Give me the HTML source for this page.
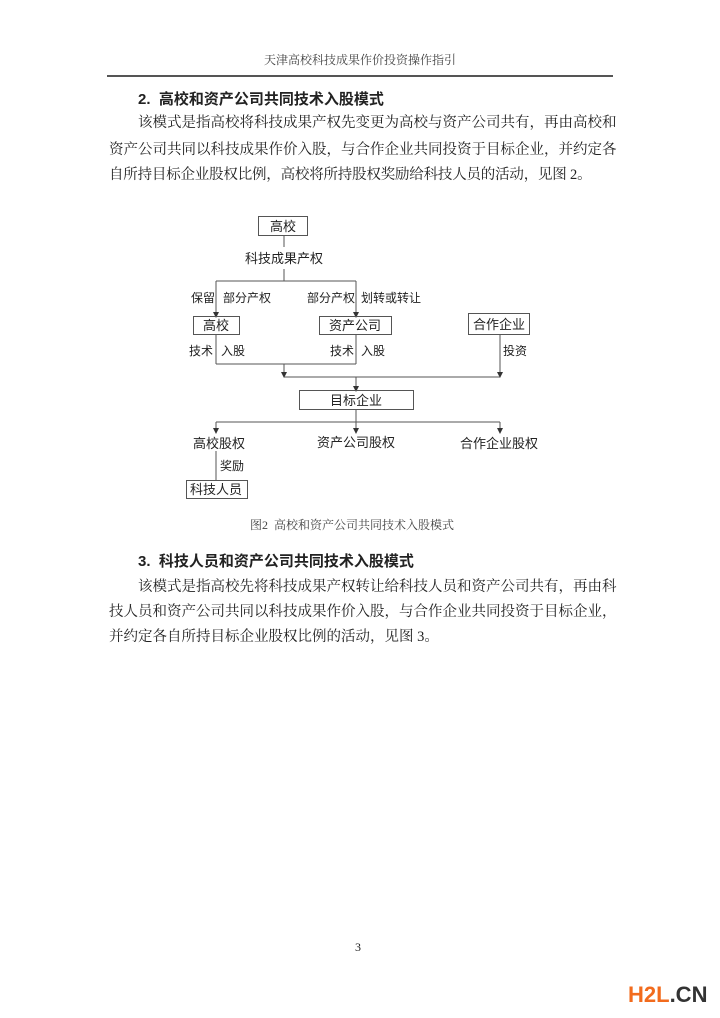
<!DOCTYPE html>
<html><head><meta charset="utf-8"><style>
body{margin:0;background:#fff;}
#p{position:relative;width:720px;height:1018px;overflow:hidden;background:#fff;font-family:"Liberation Serif","Noto Serif CJK SC",serif;color:#222;}
.t{position:absolute;white-space:nowrap;}
.j{position:absolute;font-size:14.5px;line-height:20px;text-align:justify;text-align-last:justify;white-space:nowrap;}
.h{position:absolute;font-size:15px;font-weight:bold;font-family:"Liberation Sans","Noto Sans CJK SC",sans-serif;line-height:20px;}
</style></head><body><div id="p">
<div class="t" style="left:0;width:720px;text-align:center;top:51px;font-size:12px;color:#444;">天津高校科技成果作价投资操作指引</div>
<div style="position:absolute;left:107px;top:75px;width:506px;height:2px;background:#555;"></div>
<div class="h" style="left:138px;top:90px;">2.&nbsp; 高校和资产公司共同技术入股模式</div>
<div class="j" style="left:138px;top:113px;width:474px;">该模式是指高校将科技成果产权先变更为高校与资产公司共有，再由高校和</div>
<div class="j" style="left:109px;top:140px;width:503px;">资产公司共同以科技成果作价入股，与合作企业共同投资于目标企业，并约定各</div>
<div class="t" style="left:109px;top:165px;font-size:14.5px;line-height:20px;letter-spacing:-0.2px;">自所持目标企业股权比例，高校将所持股权奖励给科技人员的活动，见图 2。</div>
<svg style="position:absolute;left:0;top:0" width="720" height="1018" font-family="Liberation Sans,Noto Sans CJK SC,sans-serif" font-size="12" fill="#222">
<defs><marker id="a" markerWidth="6" markerHeight="6" refX="3" refY="3" orient="auto"><path d="M0,0L6,3L0,6z" fill="#333"/></marker></defs>
<g stroke="#555" stroke-width="1" fill="none">
<rect x="258.5" y="216.5" width="49" height="19"/>
<line x1="284" y1="236" x2="284" y2="247"/>
<line x1="284" y1="269" x2="284" y2="281"/>
<line x1="216" y1="281" x2="356" y2="281"/>
<line x1="216" y1="281" x2="216" y2="315" marker-end="url(#a)"/>
<line x1="356" y1="281" x2="356" y2="315" marker-end="url(#a)"/>
<rect x="193.5" y="316.5" width="46" height="18"/>
<rect x="319.5" y="316.5" width="72" height="18"/>
<rect x="468.5" y="313.5" width="61" height="21"/>
<line x1="216" y1="335" x2="216" y2="364"/>
<line x1="356" y1="335" x2="356" y2="364"/>
<line x1="216" y1="364" x2="356" y2="364"/>
<line x1="284" y1="364" x2="284" y2="375" marker-end="url(#a)"/>
<line x1="500" y1="335" x2="500" y2="375" marker-end="url(#a)"/>
<line x1="284" y1="377" x2="500" y2="377"/>
<line x1="356" y1="377" x2="356" y2="389" marker-end="url(#a)"/>
<rect x="299.5" y="390.5" width="114" height="19"/>
<line x1="356" y1="410" x2="356" y2="422"/>
<line x1="216" y1="422" x2="500" y2="422"/>
<line x1="216" y1="422" x2="216" y2="431" marker-end="url(#a)"/>
<line x1="356" y1="422" x2="356" y2="431" marker-end="url(#a)"/>
<line x1="500" y1="422" x2="500" y2="431" marker-end="url(#a)"/>
<line x1="216" y1="451" x2="216" y2="480"/>
<rect x="186.5" y="480.5" width="61" height="18"/>
</g>
<g text-anchor="middle">
<text x="283" y="231" font-size="13">高校</text>
<text x="284" y="263" font-size="13">科技成果产权</text>
<text x="216" y="330" font-size="13">高校</text>
<text x="355" y="330" font-size="13">资产公司</text>
<text x="499" y="329" font-size="13">合作企业</text>
<text x="356" y="405" font-size="13">目标企业</text>
<text x="219" y="448" font-size="13">高校股权</text>
<text x="356" y="447" font-size="13">资产公司股权</text>
<text x="499" y="448" font-size="13">合作企业股权</text>
<text x="216" y="494" font-size="13">科技人员</text>
</g>
<text x="191" y="302">保留</text>
<text x="223" y="302">部分产权</text>
<text x="307" y="302">部分产权</text>
<text x="361" y="302">划转或转让</text>
<text x="189" y="355">技术</text>
<text x="221" y="355">入股</text>
<text x="330" y="355">技术</text>
<text x="361" y="355">入股</text>
<text x="503" y="355">投资</text>
<text x="220" y="470">奖励</text>
</svg>
<div class="t" style="left:0;width:704px;text-align:center;top:516px;font-size:12px;color:#444;">图2&nbsp; 高校和资产公司共同技术入股模式</div>
<div class="h" style="left:138px;top:552px;">3.&nbsp; 科技人员和资产公司共同技术入股模式</div>
<div class="j" style="left:138px;top:577px;width:474px;">该模式是指高校先将科技成果产权转让给科技人员和资产公司共有，再由科</div>
<div class="j" style="left:109px;top:602px;width:503px;">技人员和资产公司共同以科技成果作价入股，与合作企业共同投资于目标企业，</div>
<div class="t" style="left:109px;top:627px;font-size:14.5px;line-height:20px;letter-spacing:0px;">并约定各自所持目标企业股权比例的活动，见图 3。</div>
<div class="t" style="left:355px;top:940px;font-size:12px;">3</div>
<div class="t" style="left:628px;top:982px;font-size:22px;font-weight:bold;font-family:'Liberation Sans',sans-serif;"><span style="color:#f26b1d">H2L</span><span style="color:#333">.CN</span></div>
</div></body></html>
